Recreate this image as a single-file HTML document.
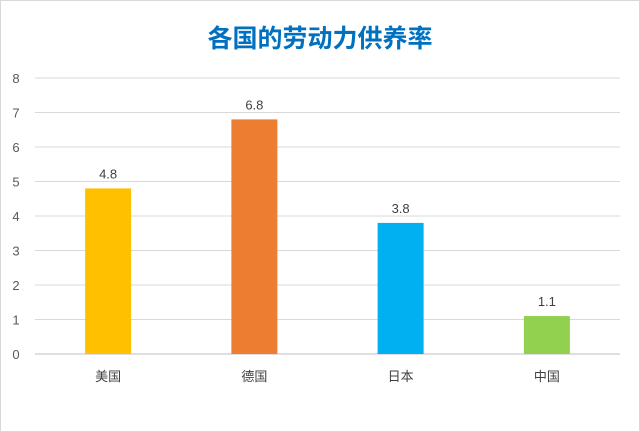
<!DOCTYPE html>
<html><head><meta charset="utf-8"><style>
body{margin:0;background:#fff;}
svg{display:block;font-family:"Liberation Sans","Noto Sans CJK SC",sans-serif;}
</style></head><body>
<svg id="chart" width="640" height="432">
<rect x="0.5" y="0.5" width="639" height="431" fill="#fff" stroke="#d9d9d9"/>
<text x="320" y="47" text-anchor="middle" font-size="25" font-weight="bold" fill="#0070c0">各国的劳动力供养率</text>
<g id="grid"></g><g id="bars"></g>
</svg>
<script>
const categories=["美国","德国","日本","中国"];
const values=[4.8,6.8,3.8,1.1];
const colors=["#ffc000","#ed7d31","#00b0f0","#92d050"];
const ticks=[0,1,2,3,4,5,6,7,8];
const NS="http://www.w3.org/2000/svg";
const x0=35,x1=620,y0=354,y8=78;
const y=v=>y0-(v/8)*(y0-y8);
const band=(x1-x0)/categories.length;
const xc=i=>x0+band*(i+0.5);
const grid=document.getElementById('grid'),bars=document.getElementById('bars');
function mk(t,a,p){const e=document.createElementNS(NS,t);for(const k in a)e.setAttribute(k,a[k]);p.appendChild(e);return e;}
ticks.forEach(t=>{
 const l=mk('line',{x1:x0,x2:x1,y1:y(t),y2:y(t),stroke:t===0?'#bfbfbf':'#d9d9d9','stroke-width':1},grid);
 
 
 const tx=mk('text',{x:16,y:y(t)+5,'text-anchor':'middle','font-size':13,fill:'#595959'},grid);
 tx.textContent=t;
 
 
});
categories.forEach((c,i)=>{
 const w=46;
 const r=mk('rect',{x:xc(i)-w/2,y:y(values[i]),width:w,height:y0-y(values[i]),fill:colors[i]},bars);
 
 
 const lb=mk('text',{x:xc(i),y:y(values[i])-10,'text-anchor':'middle','font-size':13,fill:'#404040'},bars);
 lb.textContent=values[i].toFixed(1);
 
 
 const cl=mk('text',{x:xc(i),y:y0+27,'text-anchor':'middle','font-size':13,fill:'#404040'},bars);
 cl.textContent=c;
 
 
});
</script>
</body></html>
